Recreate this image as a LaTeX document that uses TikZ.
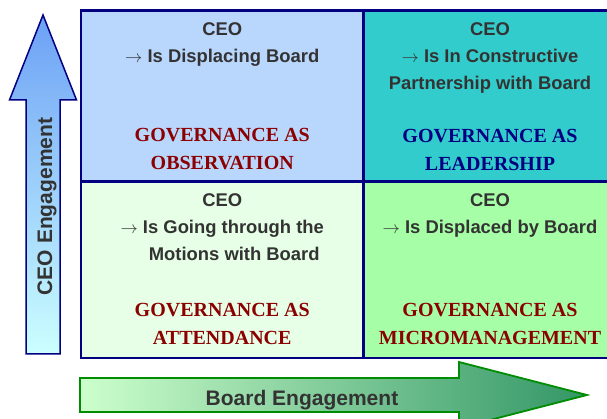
\documentclass[tikz,border=0pt]{standalone}
\usepackage{fontspec}
\setmainfont{Liberation Sans}
\newfontfamily\govfont{Liberation Serif}

\definecolor{obsblue}{RGB}{185,214,253}
\definecolor{leadteal}{RGB}{51,204,204}
\definecolor{attgreen}{RGB}{230,255,230}
\definecolor{microgreen}{RGB}{166,255,166}
\definecolor{gridnavy}{RGB}{0,0,128}
\definecolor{govred}{RGB}{139,0,0}
\definecolor{textgray}{RGB}{51,51,51}
\definecolor{ceotop}{RGB}{108,160,245}
\definecolor{ceobottom}{RGB}{204,255,255}
\definecolor{boardleft}{RGB}{204,255,204}
\definecolor{boardright}{RGB}{51,150,102}
\definecolor{boardline}{RGB}{0,140,0}

\begin{document}
\begin{tikzpicture}[x=1pt, y=1pt,
  cell/.style={draw=gridnavy, line width=2.4pt, rectangle, inner sep=0, outer sep=0, anchor=north west},
  ceotxt/.style={font=\bfseries\fontsize{18.4}{27}\selectfont, text=textgray, align=center, inner sep=0, anchor=north},
  govtxt/.style={font=\govfont\bfseries\fontsize{20}{28}\selectfont, text=govred, align=center, inner sep=0, anchor=south},
  axistxt/.style={font=\bfseries\fontsize{21}{25}\selectfont, text=textgray, inner sep=0, anchor=base}]
\clip (0,0) rectangle (607,419);

% the four quadrants
\node[cell, fill=obsblue, minimum width=282.5pt, minimum height=171pt] (obs) at (81,408.5) {};
\node[cell, fill=leadteal, minimum width=253pt, minimum height=171pt] (lead) at (363.5,408.5) {};
\node[cell, fill=attgreen, minimum width=282.5pt, minimum height=176.5pt] (att) at (81,237.5) {};
\node[cell, fill=microgreen, minimum width=253pt, minimum height=176.5pt] (micro) at (363.5,237.5) {};

% CEO behaviour
\node[ceotxt] (obsceo) at ([yshift=-11.8pt]obs.north) {CEO\\$\rightarrow$ Is Displacing Board};
\node[ceotxt] (leadceo) at ([yshift=-11.8pt]lead.north) {CEO\\$\rightarrow$ Is In Constructive\\Partnership with Board};
\node[ceotxt] (attceo) at ([yshift=-11.8pt]att.north) {CEO\\$\rightarrow$ Is Going through the\\\hspace*{24pt}Motions with Board};
\node[ceotxt] (microceo) at ([yshift=-11.8pt]micro.north) {CEO\\$\rightarrow$ Is Displaced by Board};

% governance modes
\node[govtxt] (obsgov) at ([yshift=11pt]obs.south) {GOVERNANCE AS\\OBSERVATION};
\node[govtxt, text=gridnavy] (leadgov) at ([yshift=11pt]lead.south) {GOVERNANCE AS\\LEADERSHIP};
\node[govtxt] (attgov) at ([yshift=13.5pt]att.south) {GOVERNANCE AS\\ATTENDANCE};
\node[govtxt] (microgov) at ([yshift=13.5pt]micro.south) {GOVERNANCE AS\\MICROMANAGEMENT};

% axes
\draw[draw=gridnavy, line width=1.5pt, top color=ceotop, bottom color=ceobottom]
  (26,65) -- (60,65) -- (60,319) -- (76.5,319) -- (43,404) -- (9.5,319) -- (26,319) -- cycle;
\node[axistxt, rotate=90] (ceoaxis) at (52,212.5) {CEO Engagement};

\draw[draw=boardline, line width=1.8pt, left color=boardleft, right color=boardright]
  (80,41) -- (459,41) -- (459,57) -- (587,24) -- (459,-9) -- (459,7) -- (80,7) -- cycle;
\node[axistxt] (boardaxis) at (302,13) {Board Engagement};
\end{tikzpicture}
\end{document}
